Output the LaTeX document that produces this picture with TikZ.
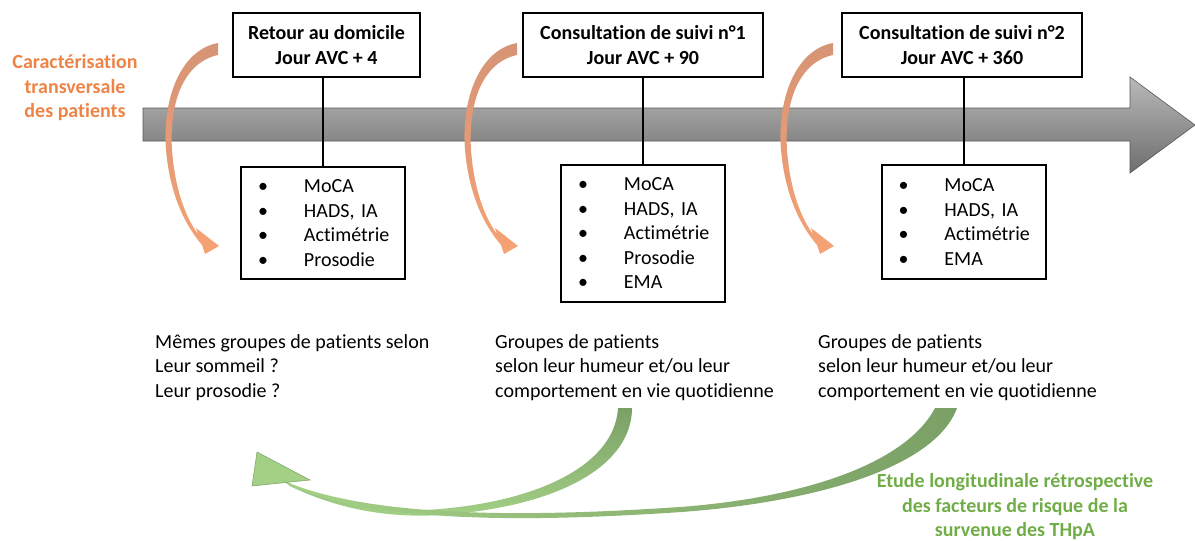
\documentclass[tikz,border=0pt]{standalone}
\usepackage{fontspec}
\setmainfont[Ligatures=NoCommon]{Carlito}
\usepackage{xcolor}
\usepackage{tikz}
\usetikzlibrary{positioning}
\definecolor{orangetxt}{RGB}{237,132,70}
\definecolor{orangetop}{RGB}{214,148,118}
\definecolor{orangebot}{RGB}{246,162,116}
\definecolor{greentxt}{RGB}{112,173,71}
\definecolor{greendark}{RGB}{122,160,102}
\definecolor{greenlight}{RGB}{164,208,134}
\definecolor{axistop}{RGB}{185,185,185}
\definecolor{axisbot}{RGB}{110,110,110}
\newcommand{\bodysize}{\fontsize{20}{24.5}\selectfont\frenchspacing}
\newcommand{\bulitem}[1]{\makebox[46pt][l]{\textbullet}#1}
\tikzstyle{header} = [rectangle, draw, line width=2pt, align=center, font=\bodysize\bfseries, minimum width=240pt, minimum height=64pt]
\tikzstyle{itemlist} = [rectangle, draw, line width=2pt, align=left, text width=130pt, inner xsep=17pt, inner ysep=7pt]
\tikzstyle{note} = [align=left, anchor=north west, inner sep=0pt]
\tikzstyle{line} = [draw, line width=2pt]
\tikzstyle{curl} = [top color=orangetop, bottom color=orangebot]

\begin{document}
\begin{tikzpicture}[x=1pt, y=-1pt, font=\bodysize]
    \useasboundingbox (0,0) rectangle (1195,541);
    % time axis
    \path [draw=axisbot!80!black, line width=0.6pt, top color=axistop, bottom color=axisbot]
        (143,108) -- (1130,108) -- (1130,77) -- (1195,125) -- (1130,173) -- (1130,141) -- (143,141) -- cycle;

    \node [header, minimum width=187pt] (h1) at (326.5,45) {Retour au domicile\\Jour AVC + 4};
    \node [header] (h2) at (643,45) {Consultation de suivi n°1\\Jour AVC + 90};
    \node [header] (h3) at (962,45) {Consultation de suivi n°2\\Jour AVC + 360};

    \node [itemlist, below=88pt of h1, xshift=-3.5pt, minimum height=112pt] (l1)
        {\bulitem{MoCA}\\\bulitem{HADS, IA}\\\bulitem{Actimétrie}\\\bulitem{Prosodie}};
    \node [itemlist, below=86pt of h2, minimum height=137pt] (l2)
        {\bulitem{MoCA}\\\bulitem{HADS, IA}\\\bulitem{Actimétrie}\\\bulitem{Prosodie}\\\bulitem{EMA}};
    \node [itemlist, below=86pt of h3, xshift=1.5pt, minimum height=114pt] (l3)
        {\bulitem{MoCA}\\\bulitem{HADS, IA}\\\bulitem{Actimétrie}\\\bulitem{EMA}};

    \path [line] (l1.north) -- (l1.north |- h1.south);
    \path [line] (l2.north) -- (l2.north |- h2.south);
    \path [line] (l3.north) -- (l3.north |- h3.south);

    \node [font=\bodysize\bfseries, text=orangetxt, align=center] (cara) at (75,88)
        {Caractérisation\\transversale\\des patients};

    % curved orange arrows
    \foreach \dx in {0,299,615} {
        \path [curl, xshift=\dx]
            (218,43) .. controls (180,50) and (162,100) .. (166,150)
            .. controls (170,195) and (185,225) .. (202,245)
            -- (205,254) -- (219,246) -- (196,228) -- (198,234)
            .. controls (186,218) and (175,190) .. (172,150)
            .. controls (169,100) and (185,62) .. (218,55) -- cycle;
    }

    \node [note] (n1) at (155,334) {Mêmes groupes de patients selon\\Leur sommeil ?\\Leur prosodie ?};
    \node [note] (n2) at (495,334) {Groupes de patients\\selon leur humeur et/ou leur\\comportement en vie quotidienne};
    \node [note] (n3) at (818,334) {Groupes de patients\\selon leur humeur et/ou leur\\comportement en vie quotidienne};

    % green return arrow
    \path [top color=greendark, bottom color=greenlight]
        (618,408) .. controls (615,462) and (545,500) .. (440,509)
        .. controls (370,515) and (320,497) .. (284,481) -- (290,486)
        .. controls (325,503) and (375,519) .. (440,515)
        .. controls (560,507) and (632,465) .. (632,408) -- cycle;
    \path [right color=greendark, left color=greenlight]
        (935,408) .. controls (905,465) and (800,498) .. (680,507)
        .. controls (560,515) and (380,522) .. (284,481) -- (290,486)
        .. controls (385,527) and (560,520) .. (682,512)
        .. controls (815,502) and (935,468) .. (957,408) -- cycle;
    \path [fill=greenlight, draw=greendark, line width=0.5pt] (257,452) -- (252,486) -- (310,480) -- cycle;

    \node [font=\bodysize\bfseries, text=greentxt, align=center] (etude) at (1015,507)
        {Etude longitudinale rétrospective\\des facteurs de risque de la\\survenue des THpA};
\end{tikzpicture}
\end{document}
